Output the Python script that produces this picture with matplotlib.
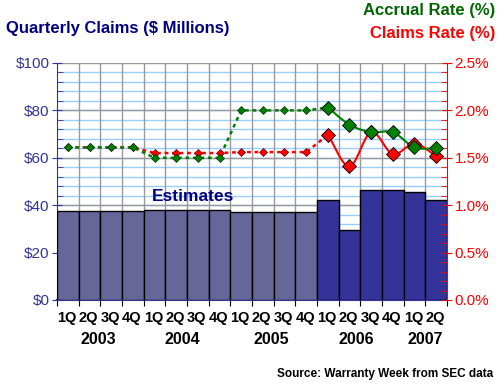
import numpy as np
import matplotlib.pyplot as plt

plt.rcParams['font.family'] = ['Liberation Sans', 'DejaVu Sans']

quarters = ['1Q', '2Q', '3Q', '4Q'] * 4 + ['1Q', '2Q']
years = ['2003', '2004', '2005', '2006', '2007']
claims = [37.6, 37.6, 37.6, 37.6, 38.0, 38.0, 38.0, 38.0, 37.0, 37.0, 37.0, 37.0,
          42.3, 29.6, 46.5, 46.5, 45.6, 42.3]
accrual = [1.61, 1.61, 1.61, 1.61, 1.50, 1.50, 1.50, 1.50, 2.00, 2.00, 2.00, 2.00,
           2.03, 1.85, 1.77, 1.77, 1.61, 1.60]
claims_rate = [1.61, 1.61, 1.61, 1.61, 1.55, 1.55, 1.55, 1.55, 1.56, 1.56, 1.56, 1.56,
               1.74, 1.41, 1.77, 1.54, 1.65, 1.52]
n_est = 12  # first 12 quarters are estimates

NAVY = '#000080'
BLUE = '#333399'
GREEN = '#008000'
RED = '#FF0000'


def smooth(xs, ys, n=24):
    # Catmull-Rom curve through the points (like Excel's smoothed line)
    xs = np.asarray(xs, float)
    ys = np.asarray(ys, float)
    px = np.concatenate([[2 * xs[0] - xs[1]], xs, [2 * xs[-1] - xs[-2]]])
    py = np.concatenate([[2 * ys[0] - ys[1]], ys, [2 * ys[-1] - ys[-2]]])
    out_x, out_y = [], []
    t = np.linspace(0, 1, n)
    for i in range(1, len(px) - 2):
        for p, out in ((px, out_x), (py, out_y)):
            p0, p1, p2, p3 = p[i - 1], p[i], p[i + 1], p[i + 2]
            out.extend(0.5 * ((2 * p1) + (-p0 + p2) * t
                              + (2 * p0 - 5 * p1 + 4 * p2 - p3) * t ** 2
                              + (-p0 + 3 * p1 - 3 * p2 + p3) * t ** 3))
    return out_x, out_y


fig = plt.figure(figsize=(5, 3.86), dpi=100)
ax = fig.add_axes([0.114, 0.2228, 0.78, 0.614])
x = np.arange(len(claims))

colors = ['#666699'] * n_est + [BLUE] * (len(claims) - n_est)
ax.bar(x, claims, width=1.0, color=colors, edgecolor='black', linewidth=1, zorder=3)

ax.set_xlim(-0.5, len(claims) - 0.5)
ax.set_ylim(0, 100)
for yv in np.arange(4, 100, 4):
    ax.axhline(yv, color='#99CCFF', lw=1, zorder=1)
for yv in np.arange(20, 101, 20):
    ax.axhline(yv, color='#999999', lw=1, zorder=1.5)
for xv in np.arange(0.5, len(claims) - 1, 1):
    ax.axvline(xv, color='#999999', lw=1, zorder=1.5)

ax.set_yticks(np.arange(0, 101, 20))
ax.set_yticklabels(['$%d' % v for v in range(0, 101, 20)], color=BLUE, fontsize=11)
ax.set_yticks(np.arange(0, 101, 4), minor=True)
ax.tick_params(axis='y', which='major', direction='inout', length=7, color=BLUE, pad=2)
ax.tick_params(axis='y', which='minor', direction='in', length=4, color=BLUE)
ax.set_xticks(np.arange(-0.5, len(claims), 1))
ax.set_xticklabels([])
ax.tick_params(axis='x', direction='out', length=4, color='black')
ax.spines['left'].set_color(BLUE)
ax.spines['bottom'].set_color(BLUE)
ax.spines['bottom'].set_linewidth(1.5)
ax.spines['top'].set_visible(False)
ax.spines['right'].set_visible(False)

ax2 = ax.twinx()
ax2.set_ylim(0, 2.5)
ax2.set_yticks(np.arange(0, 2.51, 0.5))
ax2.set_yticklabels(['%.1f%%' % v for v in np.arange(0, 2.51, 0.5)], color=RED, fontsize=11)
ax2.set_yticks(np.arange(0, 2.51, 0.1), minor=True)
ax2.tick_params(axis='y', which='major', direction='inout', length=7, color=RED, pad=2)
ax2.tick_params(axis='y', which='minor', direction='in', length=4, color=RED)
ax2.spines['right'].set_color(RED)
for s in ('left', 'top', 'bottom'):
    ax2.spines[s].set_visible(False)

# estimated part: dotted lines with small markers
dots = (0, (1.5, 1.5))
ax2.plot(x[:n_est + 1], claims_rate[:n_est + 1], color=RED, lw=1.8, ls=dots)
ax2.plot(x[:n_est + 1], accrual[:n_est + 1], color=GREEN, lw=1.8, ls=dots)
ax2.plot(x[:n_est], claims_rate[:n_est], 'D', color=RED, ms=4, mec='#660000', mew=0.5)
ax2.plot(x[:n_est], accrual[:n_est], 'D', color=GREEN, ms=4, mec='#003300', mew=0.5)

# reported part: solid smoothed lines with big markers
sx, sy = smooth(x[n_est:], claims_rate[n_est:])
ax2.plot(sx, sy, color=RED, lw=1.5)
gx, gy = smooth(x[n_est:], accrual[n_est:])
ax2.plot(gx, gy, color=GREEN, lw=1.5)
ax2.plot(x[n_est:], claims_rate[n_est:], 'D', color=RED, ms=7, mec='black', mew=0.6)
ax2.plot(x[n_est:], accrual[n_est:], 'D', color=GREEN, ms=7, mec='black', mew=0.6)

# category labels
for i, q in enumerate(quarters):
    ax.text(i - 0.05, -7.5, q, ha='center', va='center', fontsize=10.5,
            fontweight='bold', color='black')
year_pos = [1.4, 5.3, 9.4, 13.3, 16.5]
for yp, yr in zip(year_pos, years):
    ax.text(yp, -16.5, yr, ha='center', va='center', fontsize=11.5,
            fontweight='bold', color='black')

ax.text(5.8, 43.5, 'Estimates', ha='center', va='center', fontsize=12.5,
        fontweight='bold', color=NAVY, zorder=5)

fig.text(0.012, 0.925, 'Quarterly Claims ($ Millions)', ha='left', va='center',
         fontsize=12, fontweight='bold', color=NAVY)
fig.text(0.99, 0.972, 'Accrual Rate (%)', ha='right', va='center',
         fontsize=12, fontweight='bold', color='#006600')
fig.text(0.99, 0.912, 'Claims Rate (%)', ha='right', va='center',
         fontsize=12, fontweight='bold', color=RED)
fig.text(0.986, 0.03, 'Source: Warranty Week from SEC data', ha='right', va='center',
         fontsize=8.5, fontweight='bold', color='black')

fig.savefig('out.png', dpi=100)
